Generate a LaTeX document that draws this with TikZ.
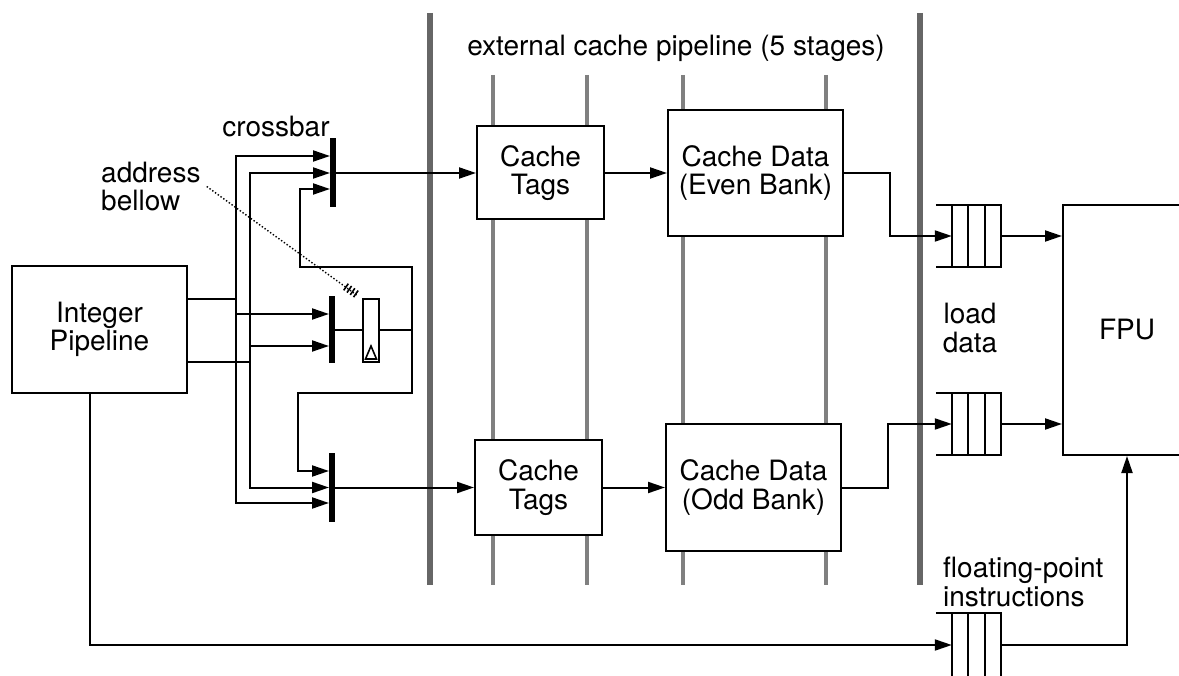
\documentclass[tikz,border=0pt]{standalone}
\usepackage{fontspec}
\setmainfont{TeX Gyre Heros}
\usetikzlibrary{arrows.meta,calc}
\begin{document}
\begin{tikzpicture}[x=1pt,y=-1pt,
  wire/.style={line width=2pt},
  arr/.style={wire,-{Triangle[length=17pt,width=11pt]}},
  blk/.style={draw,line width=2pt,fill=white,inner sep=0pt,font=\fontsize{28}{28.5}\selectfont,align=center},
  shade/.style={line width=4.5pt,draw=black!50},
  bigshade/.style={line width=6pt,draw=black!60},
  xbar/.style={fill=black,inner sep=0pt,minimum width=6pt},
  lbl/.style={font=\fontsize{28}{28.5}\selectfont,inner sep=0pt},
  cell/.style={inner sep=0pt,minimum width=49pt}]
\useasboundingbox (0,0) rectangle (1179,676);
\clip (0,0) rectangle (1179,676);

% pipeline stage boundaries (shaded)
\draw[bigshade] (430,13) -- (430,585);
\draw[bigshade] (920,13) -- (920,585);
\foreach \x in {493,587,683,826} \draw[shade] (\x,75) -- (\x,585);

% blocks
\node[blk,minimum width=175pt,minimum height=127pt] (ip) at (99.5,329.5) {Integer\\Pipeline};
\node[blk,minimum width=127pt,minimum height=93pt] (tt) at (540.5,173) {Cache\\Tags};
\node[blk,minimum width=127pt,minimum height=95pt] (tb) at (538.5,487.5) {Cache\\Tags};
\node[blk,minimum width=175pt,minimum height=126pt] (de) at (755.5,173) {Cache Data\\(Even Bank)};
\node[blk,minimum width=175pt,minimum height=127pt] (do) at (753.5,487.5) {Cache Data\\(Odd Bank)};
\node[blk,minimum width=128pt,minimum height=250pt] (fpu) at (1127,330) {FPU};

% crossbars
\node[xbar,minimum height=69pt] (xb1) at (333,173) {};
\node[xbar,minimum height=67pt] (xb2) at (332,330) {};
\node[xbar,minimum height=69pt] (xb3) at (332,487.5) {};

% address register
\node[draw,line width=2pt,inner sep=0pt,minimum width=16pt,minimum height=63pt] (reg) at (371,330.5) {};
\draw[line width=1.6pt] (365.5,359) -- (376.5,359) -- (371,346) -- cycle;

% queues
\node[cell,minimum height=62pt] (q1) at (976.5,236) {};
\node[cell,minimum height=62pt] (q2) at (976.5,424) {};
\node[cell,minimum height=64pt] (q3) at (976.5,645) {};
\foreach \q in {q1,q2,q3}{
  \draw[wire] ([xshift=-16pt]\q.north west) -- (\q.north east) -- (\q.south east) -- ([xshift=-16pt]\q.south west);
  \draw[wire] (\q.north west) -- (\q.south west);
  \draw[wire] ([xshift=16pt]\q.north west) -- ([xshift=16pt]\q.south west);
  \draw[wire] ([xshift=33pt]\q.north west) -- ([xshift=33pt]\q.south west);
}

% integer pipeline to crossbars
\draw[arr] ([yshift=30.5pt]ip.east) -| (236,156) -- (330,156);
\draw[arr] (236,299) |- (329,503);
\draw[arr] (236,314) -- (329,314);
\draw[arr] ([yshift=-32.5pt]ip.east) -| (250,173) -- (330,173);
\draw[arr] (250,362) |- (329,487.5);
\draw[arr] (250,346) -- (329,346);

% feedback from address register
\draw[wire] (xb2.east) -- (reg.west |- xb2.east);
\draw[arr] (reg.east |- xb2.east) -- (412,330) |- (300,267) |- (330,189);
\draw[arr] (412,330) |- (298,393) |- (329,471);

% crossbar outputs
\draw[arr] (xb1.east) -- (tt.west);
\draw[arr] (xb3.east) -- (tb.west);
\draw[arr] (tt.east) -- (de.west);
\draw[arr] (tb.east) -- (do.west);

% to load-data queues and FPU
\draw[arr] (de.east) -- (890,173) |- (q1.west);
\draw[arr] (do.east) -- (888,487.5) |- (q2.west);
\draw[arr] (q1.east) -- (fpu.west |- q1.east);
\draw[arr] (q2.east) -- (fpu.west |- q2.east);

% floating-point instructions path
\draw[arr] ([xshift=-9.5pt]ip.south) |- (q3.west);
\draw[arr] (q3.east) -| (fpu.south);

% labels
\node[lbl] (xbl) at (276,127) {crossbar};
\node[lbl,align=left,anchor=west] (addr) at (101,186.5) {address\\bellow};
\node[lbl] (title) at (676,48) {external cache pipeline (5 stages)};
\node[lbl,align=center] (ld) at (970,328) {load\\data};
\node[lbl,align=left,anchor=west] (fpl) at (943,582) {floating-point\\instructions};

% dotted pointer with bus marks
\draw[line width=1.4pt,dotted] ([xshift=6pt]addr.east) -- (358,296);
\foreach \t in {0,4,8,12}
  \draw[line width=1.6pt] ($(346,287)+(\t*0.82,\t*0.57)+(2.3,-3.3)$) -- ($(346,287)+(\t*0.82,\t*0.57)+(-2.3,3.3)$);
\end{tikzpicture}
\end{document}
